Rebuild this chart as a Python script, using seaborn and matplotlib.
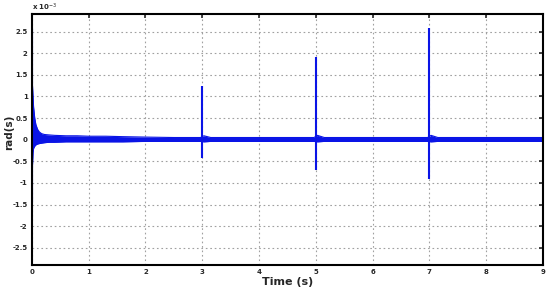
import numpy as np
import pandas as pd
import seaborn as sns
from matplotlib import pyplot as plt

# envelope of the noisy response (x 1e-3 rad)
band_t = [0.0, 0.01, 0.02, 0.03, 0.05, 0.07, 0.1, 0.13, 0.17, 0.22, 0.3, 0.4,
          0.6, 0.8, 1.0, 1.3, 1.6, 2.0, 2.5, 2.97, 3.03, 3.15, 4.0, 4.5, 4.97,
          5.03, 5.15, 6.0, 6.5, 6.97, 7.03, 7.15, 8.0, 8.5, 9.0]
band_hi = [1.30, 1.25, 1.0, 0.75, 0.5, 0.35, 0.24, 0.18, 0.14, 0.12, 0.11, 0.10,
           0.09, 0.09, 0.08, 0.08, 0.07, 0.06, 0.05, 0.05, 0.09, 0.05, 0.05, 0.05, 0.05,
           0.10, 0.05, 0.05, 0.05, 0.05, 0.10, 0.05, 0.05, 0.05, 0.05]
band_lo = [-1.40, -0.60, -0.30, -0.20, -0.15, -0.12, -0.10, -0.09, -0.08, -0.07, -0.06, -0.06,
           -0.05, -0.05, -0.05, -0.05, -0.05, -0.04, -0.04, -0.04, -0.05, -0.04, -0.04, -0.04, -0.04,
           -0.05, -0.04, -0.04, -0.04, -0.04, -0.05, -0.04, -0.04, -0.04, -0.04]

# impulse spikes
spike_t = [0.01, 3.0, 5.0, 7.0]
spike_hi = [2.55, 1.23, 1.92, 2.59]
spike_lo = [-1.45, -0.42, -0.69, -0.90]

x_ticks = [0, 1, 2, 3, 4, 5, 6, 7, 8, 9]
y_ticks = [-2.5, -2, -1.5, -1, -0.5, 0, 0.5, 1, 1.5, 2, 2.5]

sns.set_style("white")
plt.rcParams["font.family"] = ["DejaVu Sans"]

fig = plt.figure(figsize=(5.5, 2.91), dpi=100)
ax = fig.add_axes([0.058, 0.089, 0.929, 0.862])

blue = "#0a14e6"
env = pd.DataFrame({"t": band_t + band_t,
                    "v": band_hi + band_lo,
                    "side": ["hi"] * len(band_t) + ["lo"] * len(band_t)})
ax.fill_between(band_t, band_lo, band_hi, color=blue, lw=0)
sns.lineplot(data=env, x="t", y="v", units="side", estimator=None,
             color=blue, lw=0.8, ax=ax)
ax.vlines(spike_t, spike_lo, spike_hi, color=blue, lw=1.5)

ax.set_xlim(0, 9)
ax.set_ylim(-2.9, 2.9)
ax.set_xticks(x_ticks)
ax.set_xticklabels([str(v) for v in x_ticks])
ax.set_yticks(y_ticks)
ax.set_yticklabels([("%g" % v) for v in y_ticks])
ax.grid(True, color="#a0a0a0", ls=(0, (1.5, 2.5)), lw=0.8)
ax.tick_params(direction="in", length=3, width=1.2, labelsize=5,
               top=True, right=True, pad=3)
for lab in ax.get_xticklabels() + ax.get_yticklabels():
    lab.set_fontweight("bold")
for s in ax.spines.values():
    s.set_color("black")
    s.set_linewidth(1.5)

ax.set_xlabel("Time (s)", fontsize=8, fontweight="bold", labelpad=1)
ax.set_ylabel("rad(s)", fontsize=7.5, fontweight="bold", va="center")
ax.yaxis.set_label_coords(-0.045, 0.53)
ax.text(0.0, 1.005, r"x 10$^{-3}$", transform=ax.transAxes, fontsize=5,
        fontweight="bold", ha="left", va="bottom")

fig.savefig("out.png", dpi=100)
